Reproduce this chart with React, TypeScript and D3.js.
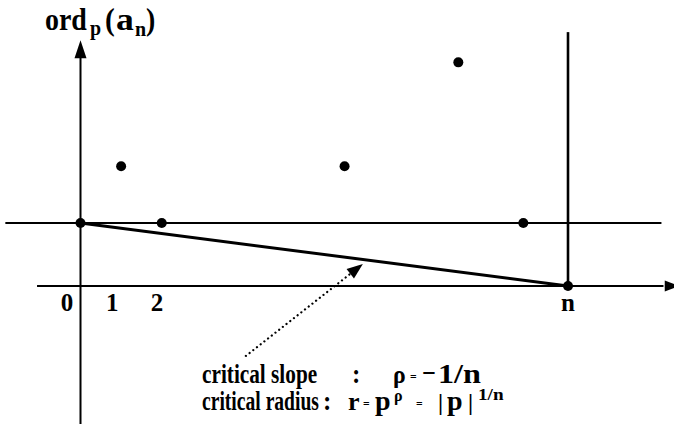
import React, { useRef, useEffect } from 'react'
import * as d3 from 'd3'

const W = 674
const H = 424

// index k of each coefficient and ord_p(a_k)
const pointIndex = [0, 1, 2, 6.5, 9.3, 10.9, 12]
const pointOrd = [1, 1.9, 1, 1.9, 3.55, 1, 0]
const n = 12

// the critical segment from (0, ord a_0) to (n, ord a_n)
const segIndex = [0, n]
const segOrd = [1, 0]

// x axis labels and where they sit (index units)
const tickLabels = ['0', '1', '2', 'n']
const tickAt = [-0.33, 0.78, 1.88, 12]

// dotted pointer: from the caption up to the segment
const pointerIndex = [4.07, 6.95]
const pointerOrd = [-1.11, 0.35]

const FONT = 'Liberation Serif'

// triangle arrow head at (x2,y2) pointing along (x1,y1)->(x2,y2)
const arrowHead = (x1, y1, x2, y2, len, half) => {
    const a = Math.atan2(y2 - y1, x2 - x1)
    const bx = x2 - len * Math.cos(a)
    const by = y2 - len * Math.sin(a)
    const nx = -Math.sin(a) * half
    const ny = Math.cos(a) * half
    return `M${x2},${y2}L${bx + nx},${by + ny}L${bx - nx},${by - ny}Z`
}

const NewtonPolygon = () => {
    const svgRef = useRef()

    useEffect(() => {
        const svg = d3.select(svgRef.current)
        svg.selectAll('*').remove()

        const x = d3.scaleLinear().domain([0, n]).range([80.5, 568])
        const y = d3.scaleLinear().domain([0, 1]).range([286, 223])

        const line = (x1, y1, x2, y2, w) =>
            svg.append('line')
                .attr('x1', x(x1)).attr('y1', y(y1))
                .attr('x2', x(x2)).attr('y2', y(y2))
                .attr('stroke', '#000')
                .attr('stroke-width', w)

        //upper horizontal line at ord a_0
        line(-1.85, 1, 14.3, 1, 1.8)
        //horizontal axis
        line(-1.07, 0, 14.35, 0, 2)
        svg.append('path')
            .attr('d', arrowHead(x(0), y(0), x(14.75), y(0), 15, 5.5))
            .attr('fill', '#000')
        //vertical axis
        line(0, -2.3, 0, 3.62, 2)
        svg.append('path')
            .attr('d', arrowHead(x(0), y(0), x(0), y(3.9), 18, 6))
            .attr('fill', '#000')
        //vertical line at n
        line(n, 0, n, 4.03, 2.6)

        //critical segment
        line(segIndex[0], segOrd[0], segIndex[1], segOrd[1], 3)

        //points
        svg.selectAll('.pt')
            .data(pointIndex)
            .enter()
            .append('circle')
            .attr('class', 'pt')
            .attr('cx', (d) => x(d))
            .attr('cy', (d, i) => y(pointOrd[i]))
            .attr('r', 5)
            .attr('fill', '#000')

        //dotted pointer
        const px1 = x(pointerIndex[0])
        const py1 = y(pointerOrd[0])
        const px2 = x(pointerIndex[1])
        const py2 = y(pointerOrd[1])
        const a = Math.atan2(py2 - py1, px2 - px1)
        svg.append('line')
            .attr('x1', px1).attr('y1', py1)
            .attr('x2', px2 - 14 * Math.cos(a)).attr('y2', py2 - 14 * Math.sin(a))
            .attr('stroke', '#000')
            .attr('stroke-width', 2.2)
            .attr('stroke-linecap', 'round')
            .attr('stroke-dasharray', '0.1 4.6')
        svg.append('path')
            .attr('d', arrowHead(px1, py1, px2, py2, 16, 6))
            .attr('fill', '#000')

        //tick labels
        svg.selectAll('.tick-label')
            .data(tickLabels)
            .enter()
            .append('text')
            .attr('class', 'tick-label')
            .attr('x', (d, i) => x(tickAt[i]))
            .attr('y', 311)
            .attr('text-anchor', 'middle')
            .attr('font-family', FONT)
            .attr('font-weight', 'bold')
            .attr('font-size', 25)
            .text((d) => d)

        // bold serif text, squeezed horizontally like the original print
        const txt = (s, tx, ty, size, sx = 0.75) =>
            svg.append('text')
                .attr('transform', `translate(${tx},${ty}) scale(${sx},1)`)
                .attr('font-family', FONT)
                .attr('font-weight', 'bold')
                .attr('font-size', size)
                .text(s)

        //y axis title ord_p(a_n)
        txt('ord', 45, 30, 31, 0.9)
        txt('p', 90, 35, 21, 0.95)
        txt('(', 105, 30, 31, 0.95)
        txt('a', 116, 30, 31, 1.15)
        txt('n', 135, 36, 20, 1)
        txt(')', 146, 30, 31, 0.9)

        //caption, first line
        txt('critical slope', 202, 383, 28, 0.76)
        txt(':', 352, 383, 28, 0.9)
        txt('ρ', 393, 383, 25, 0.95)
        txt('=', 410, 381, 13, 0.9)
        txt('−', 422, 382, 27, 0.9)
        txt('1/n', 438, 383, 28, 1.15)

        //caption, second line
        txt('critical radius', 202, 410, 28, 0.7)
        txt(':', 323, 410, 28, 0.9)
        txt('r', 348, 410, 26, 1)
        txt('=', 363, 408, 13, 0.9)
        txt('p', 375, 410, 28, 1)
        txt('ρ', 394, 401, 16, 1)
        txt('=', 416, 408, 13, 0.9)
        txt('|', 438, 410, 23, 1)
        txt('p', 447, 410, 28, 1)
        txt('|', 468, 410, 23, 1)
        txt('1/n', 478, 400, 16, 1.2)
    }, [])

    return (
        <svg
            ref={svgRef}
            width={W}
            height={H}
            style={{ position: 'absolute', left: 0, top: 0, background: '#fff' }}
        />
    )
}

export default function App() {
    return <NewtonPolygon />
}
